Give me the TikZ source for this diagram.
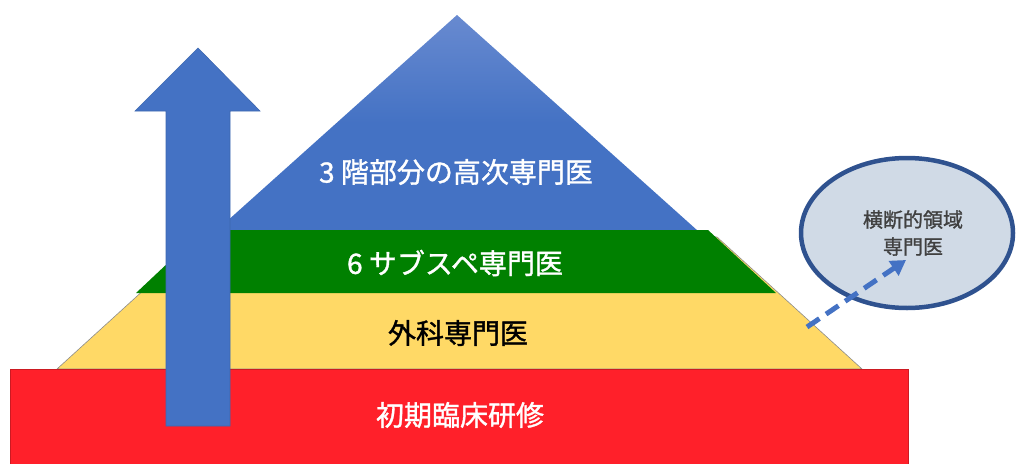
\documentclass[tikz,border=0pt]{standalone}
\usepackage{fontspec}
\newfontfamily\jp[FakeBold=1.2]{Noto Sans CJK JP}
\usetikzlibrary{arrows.meta,shapes.geometric}
\definecolor{pblue}{RGB}{68,114,196}
\definecolor{pbluetop}{RGB}{104,138,208}
\definecolor{pgreen}{RGB}{0,128,0}
\definecolor{pyellow}{RGB}{255,217,102}
\definecolor{pred}{RGB}{255,32,42}
\definecolor{edgeblue}{RGB}{47,82,143}
\definecolor{ellfill}{RGB}{208,218,230}
\definecolor{elltext}{RGB}{64,64,64}
\definecolor{outl}{RGB}{140,140,140}
\tikzset{
  layer/.style={draw=outl, line width=0.6pt},
  label/.style={font=\jp\fontsize{28}{30}\selectfont, inner sep=0pt},
  bigarrow/.style={fill=pblue, draw=pblue!90!black, line width=0.6pt},
  dasharrow/.style={draw=pblue, line width=5pt, dash pattern=on 15pt off 8pt,
    -{Triangle[length=15pt,width=17pt]}},
}
\begin{document}
\begin{tikzpicture}[x=1pt,y=-1pt]
\useasboundingbox (0,0) rectangle (1019,463);
% yellow layer
\path[layer, fill=pyellow] (57,369) -- (202,237) -- (717,237) -- (862,369) -- cycle;
% blue top triangle
\shade[top color=pbluetop, bottom color=pblue, middle color=pblue] (216,231) -- (457,15) -- (698,231) -- cycle;
% green layer
\path[fill=pgreen] (136,293) -- (203,230) -- (708,230) -- (776,293) -- cycle;
% red base
\path[layer, fill=pred, draw=pred!80!black] (10,369) rectangle (908,465);
% labels
\node[label, text=white] (top) at (456,172) {3 階部分の高次専門医};
\node[label, text=white] (sub) at (455,263) {6 サブスペ専門医};
\node[label, text=black] (surg) at (458,333) {外科専門医};
\node[label, text=white] (init) at (460,415) {初期臨床研修};
% big arrow
\path[bigarrow] (166,426) -- (166,111) -- (135,111) -- (198,48) -- (260,111) -- (230,111) -- (230,426) -- cycle;
% ellipse
\node[ellipse, draw=edgeblue, line width=4.5pt, fill=ellfill, minimum width=212pt, minimum height=150pt] (ell) at (907,233) {};
\node[font=\jp\fontsize{20}{27}\selectfont, text=elltext, align=center, inner sep=0pt] (elltxt) at (913,233) {横断的領域\\専門医};
% dashed arrow
\coordinate (dstart) at (807,327);
\coordinate (dend) at (906,260);
\draw[dasharrow] (dstart) -- (dend);
\end{tikzpicture}
\end{document}
